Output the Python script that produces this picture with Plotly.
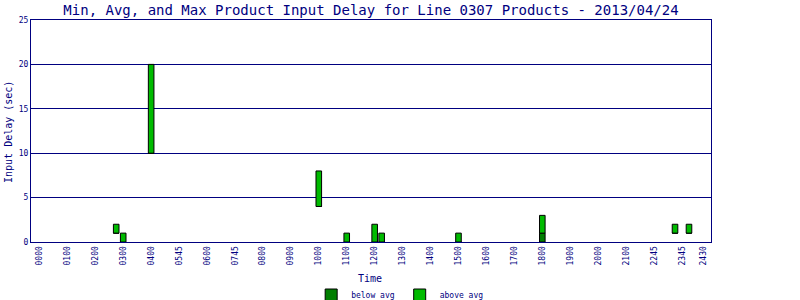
import plotly.graph_objects as go

# ---- data ----
bar_times = ["0245", "0300", "0400", "1000", "1100", "1200", "1215", "1500", "1800", "2245", "2315"]
min_vals = [1, 0, 10, 4, 0, 0, 0, 0, 0, 1, 1]
avg_vals = [1, 0, 10, 4, 0, 0, 0, 0, 1, 1, 1]
max_vals = [2, 1, 20, 8, 1, 2, 1, 1, 3, 2, 2]

tick_labels = ["0000", "0100", "0200", "0300", "0400", "0545", "0600", "0745", "0800",
               "0900", "1000", "1100", "1200", "1300", "1400", "1500", "1600", "1700",
               "1800", "1900", "2000", "2100", "2245", "2345", "2430"]
tick_slots = list(range(0, 93, 4)) + [95]

# 15-minute slot index of each bar
slots = [int(t[:2]) * 4 + int(t[2:]) // 15 for t in bar_times]

NAVY = "#000080"
DARK = "#007F00"
LIGHT = "#00BB00"
FONT = "DejaVu Sans Mono"

below = [a - m for a, m in zip(avg_vals, min_vals)]
above = [M - a for M, a in zip(max_vals, avg_vals)]

PW, PH = 679.7, 222.0  # plot area size in px

fig = go.Figure()
fig.add_trace(go.Bar(x=slots, y=below, base=min_vals, name="below avg",
                     marker=dict(color=DARK, line=dict(color="black", width=1)),
                     width=0.8))
fig.add_trace(go.Bar(x=slots, y=above, base=avg_vals, name="above avg",
                     marker=dict(color=LIGHT, line=dict(color="black", width=1)),
                     width=0.8))

fig.update_layout(
    width=800, height=300,
    margin=dict(l=31, r=89, t=20, b=58, autoexpand=False),
    paper_bgcolor="white", plot_bgcolor="white",
    barmode="overlay",
    title=dict(text="Min, Avg, and Max Product Input Delay for Line 0307 Products - 2013/04/24",
               x=371 / 800, xanchor="center", y=1 - 10 / 300, yanchor="middle",
               font=dict(family=FONT, size=14, color=NAVY)),
    showlegend=True,
    legend=dict(orientation="h", x=(400 - 31) / PW, xanchor="center",
                y=(242 - 295) / PH, yanchor="middle",
                font=dict(family=FONT, size=8, color=NAVY),
                traceorder="normal", itemwidth=30),
    font=dict(family=FONT, color=NAVY),
    annotations=[
        dict(text="Time", x=(370 - 31) / PW, y=(242 - 278) / PH, xref="paper", yref="paper",
             xanchor="center", yanchor="middle", showarrow=False,
             font=dict(family=FONT, size=10, color=NAVY)),
        dict(text="Input Delay (sec)", x=-23 / PW, y=(242 - 132) / PH,
             xref="paper", yref="paper", textangle=-90,
             xanchor="center", yanchor="middle", showarrow=False,
             font=dict(family=FONT, size=10, color=NAVY)),
    ],
)

fig.update_xaxes(
    range=[-1.2, 96.15], automargin=False,
    tickmode="array", tickvals=tick_slots, ticktext=tick_labels,
    tickangle=-90, tickfont=dict(family=FONT, size=8, color=NAVY),
    showgrid=False, zeroline=False,
    showline=True, linecolor=NAVY, linewidth=1, mirror=True,
    ticks="",
)
fig.update_yaxes(
    range=[0, 25], automargin=False, tickmode="array", tickvals=[0, 5, 10, 15, 20, 25],
    tickfont=dict(family=FONT, size=8, color=NAVY),
    showgrid=True, gridcolor=NAVY, gridwidth=1, zeroline=False,
    showline=True, linecolor=NAVY, linewidth=1, mirror=True,
    ticks="",
)

fig.write_html("out.html")
